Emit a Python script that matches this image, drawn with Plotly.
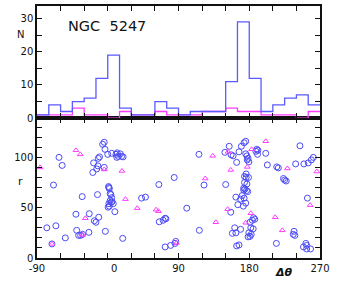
import plotly.graph_objects as go

# ---- histogram data (15 degree bins from -90 to 270) ----
bin_left = [-90, -75, -60, -45, -30, -15, 0, 15, 30, 45, 60, 75, 90, 105, 120, 135,
            150, 165, 180, 195, 210, 225, 240, 255]
bin_width = 15
blue_counts = [1, 4, 2, 5, 6, 12, 19, 3, 1, 1, 5, 3, 1, 2, 2, 2, 11, 29, 12, 2, 4, 6, 7, 4]
magenta_counts = [1, 1, 1, 3, 1, 1, 0, 2, 1, 1, 2, 1, 1, 1, 2, 2, 3, 2, 2, 1, 1, 1, 0, 2]

# ---- scatter data ----
blue_dtheta = [
    -62, -58, -69, -4.5, -6.5, -3.5, -10.5, -12, 0, 5,
    10.5, 12, 13.5, 16, 17.5, 19.5, 11.5, -18, -12.5, -14, -19, -4.5,
    1, 1.5, 2, 3, 4, 5, 3, 4.5, 1.5, 2, 0.5, 5.5, 7, 9,
    -32.5, -13, -40.5, -23.5, -11.5, -17, -15, -66, -77.5, -39.5, -37, -34.5, -32, -24, -54, -3, 19, -71,
    116, 149, 84.5, 65, 122.5, 150, 43, 48, 100.5, 73, 74, 70.5, 65.5, 116.5, 73, 80, 86.5, 85.5,
    175.5, 173.5, 170, 154.5, 157, 159.5, 167, 189.5, 191, 188.5, 190.5, 175.5, 177, 178.5, 177.5, 179.5,
    164, 201, 244.5, 203, 215, 217, 239, 249.5, 255, 259, 261.5, 223.5, 225, 227, 174, 177,
    176, 174, 176, 179, 173, 174.5, 173, 176.5, 178,
    171, 173.5, 169, 163, 175.5, 165.5, 172.5, 156.5, 185.5, 187, 184, 181, 161.5, 169, 158.5, 163,
    182, 185, 179.5, 182.5, 178.5, 181, 237, 236, 238, 214.5, 164, 167, 254, 249, 253, 253, 258, 252,
]
blue_r = [
    100, 92, 72.5, 115, 113, 108, 100.5, 99, 103, 104,
    103, 104.5, 101, 103.5, 101, 100.5, 100, 94.5, 91.5, 88.5, 85, 90,
    71, 70, 69, 64, 63, 60, 57, 55.5, 54, 51.5, 50.5, 56, 54, 46,
    61, 63, 43.5, 44, 40.5, 37, 35.5, 32, 30, 27.5, 22.5, 22.5, 23.5, 25.5, 20, 26.5, 19.5, 14,
    103, 105, 80, 73, 72.5, 73, 59.5, 60.5, 49.5, 39.5, 39, 37.5, 36, 27.5, 11, 12.5, 16.5, 14.5,
    116, 114.5, 111, 111, 102.5, 101.5, 105.5, 108, 107, 106, 103, 103.5, 101.5, 99, 97.5, 95.5,
    95, 104, 111.5, 92.5, 90.5, 89.5, 93.5, 93.5, 94.5, 97.5, 100, 79, 77.5, 76.5, 75, 73.5,
    83.5, 81, 80, 80, 69.5, 68.5, 67.5, 67, 66,
    62, 59.5, 58.5, 60.5, 54.5, 53, 51.5, 45.5, 40, 38.5, 37.5, 35.5, 30, 28.5, 24.5, 25,
    30, 29, 25, 23.5, 21, 21.5, 26.5, 23.5, 22.5, 14.5, 12, 13, 59.5, 11, 12.5, 9, 9, 14.5,
]
mag_dtheta = [-40.5, -35, -86, -4.5, 18, 22.5, -28.5, -32, -71, 133.5, 124, 37.5, 61.5, 64.5,
              137.5, 87.5, 153, 183, 201, 177.5, 156.5, 228.5, 266, 257.5, 152.5, 182, 213, 175.5, 222]
mag_r = [107, 103, 90, 88, 86.5, 58.5, 39.5, 23, 14, 101.5, 79, 49.5, 48, 46.5,
         35.5, 15, 105.5, 108, 116, 90.5, 87.5, 89, 86, 52.5, 48.5, 44.5, 40.5, 35, 27.5]

x_tickvals = [-90, -60, -30, 0, 30, 60, 90, 120, 150, 180, 210, 240, 270]
x_ticktext = ["-90", "", "", "\u2007\u20070", "", "", "90", "", "", "180", "", "", "270"]
r_tickvals = [0, 10, 20, 30, 40, 50, 60, 70, 80, 90, 100, 110, 120, 130]
r_ticktext = ["0", "", "", "", "", "50", "", "", "", "", "100", "", "", ""]
n_tickvals = [0, 5, 10, 15, 20, 25, 30]
n_ticktext = ["0", "", "10", "", "20", "", "30"]

BLUE = "#4b4bf5"
MAG = "#ff3cff"

edges = bin_left + [bin_left[-1] + bin_width]

fig = go.Figure()
fig.add_trace(go.Scatter(x=edges, y=magenta_counts + [magenta_counts[-1]], mode="lines",
                         line=dict(shape="hv", color=MAG, width=1.3),
                         xaxis="x2", yaxis="y2", showlegend=False))
fig.add_trace(go.Scatter(x=edges, y=blue_counts + [blue_counts[-1]], mode="lines",
                         line=dict(shape="hv", color="#5a5aff", width=1.3),
                         xaxis="x2", yaxis="y2", showlegend=False))
fig.add_trace(go.Scatter(x=blue_dtheta, y=blue_r, mode="markers",
                         marker=dict(symbol="circle-open", size=6, color=BLUE, line=dict(width=1)),
                         showlegend=False))
fig.add_trace(go.Scatter(x=mag_dtheta, y=mag_r, mode="markers",
                         marker=dict(symbol="triangle-up-open", size=5, color=MAG, line=dict(width=1)),
                         showlegend=False))

axis_common = dict(showline=True, linecolor="#111", linewidth=1.5, mirror="allticks",
                   ticks="inside", ticklen=5, tickcolor="#111", tickwidth=1,
                   showgrid=False, zeroline=False,
                   tickfont=dict(family="DejaVu Sans", size=10, color="#111"))

split = 141 / 254
ann_font = dict(family="DejaVu Sans", color="#111")
fig.update_layout(
    width=342, height=284,
    margin=dict(l=37, r=22, t=4, b=26),
    paper_bgcolor="white", plot_bgcolor="white",
    xaxis=dict(domain=[0, 1], anchor="y", range=[-90, 270], tickvals=x_tickvals,
               ticktext=x_ticktext, **axis_common),
    yaxis=dict(domain=[0, split], anchor="x", range=[0, 139], tickvals=r_tickvals,
               ticktext=r_ticktext, **axis_common),
    xaxis2=dict(domain=[0, 1], anchor="y2", range=[-90, 270], tickvals=x_tickvals,
                showticklabels=False, **axis_common),
    yaxis2=dict(domain=[split, 1], anchor="x2", range=[0, 33.8], tickvals=n_tickvals,
                ticktext=n_ticktext, **axis_common),
    annotations=[
        dict(text="NGC  5247", xref="paper", yref="paper", x=0.247, y=0.921,
             xanchor="center", yanchor="middle", showarrow=False,
             font=dict(size=14.5, **ann_font)),
        dict(text="N", xref="paper", yref="paper", x=-0.06, y=0.886,
             xanchor="center", yanchor="middle", showarrow=False,
             font=dict(size=10, **ann_font)),
        dict(text="r", xref="paper", yref="paper", x=-0.06, y=0.303,
             xanchor="center", yanchor="middle", showarrow=False,
             font=dict(size=11, **ann_font)),
        dict(text="<b><i>\u0394\u03b8</i></b>", xref="paper", yref="paper", x=0.873, y=-0.059,
             xanchor="center", yanchor="middle", showarrow=False,
             font=dict(size=11, **ann_font)),
    ],
)

fig.write_html("out.html", config={"displayModeBar": False},
               post_script="document.body.style.margin='0';document.body.style.overflow='hidden';")
